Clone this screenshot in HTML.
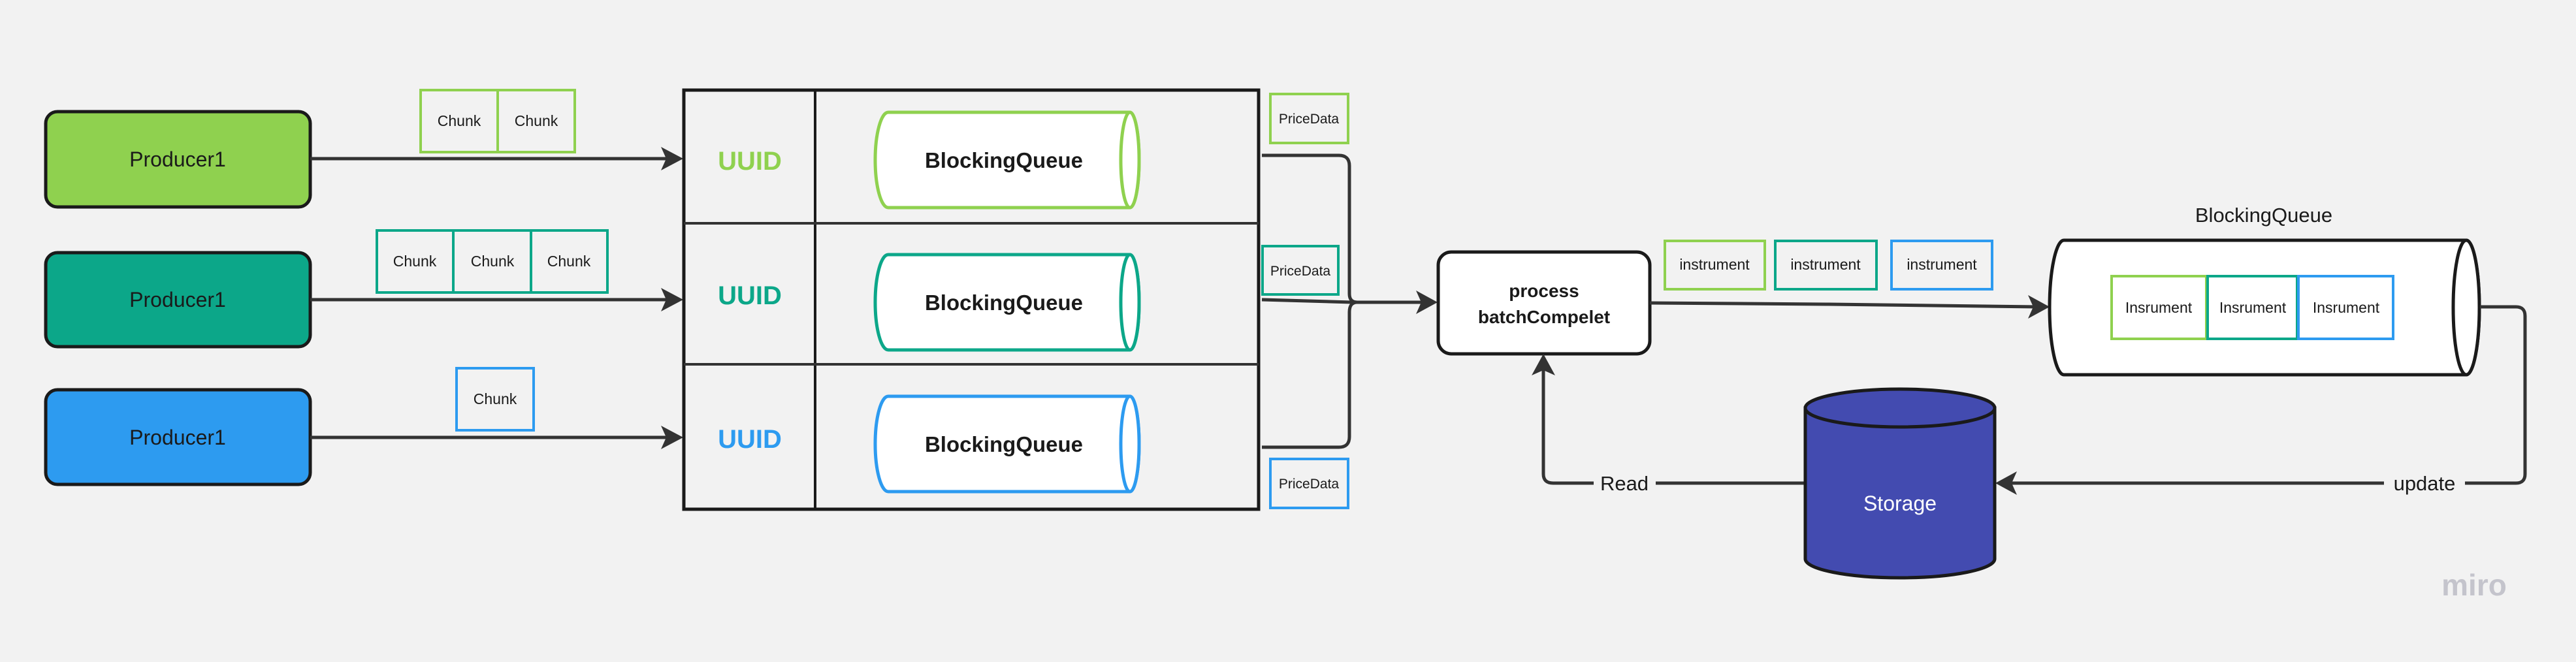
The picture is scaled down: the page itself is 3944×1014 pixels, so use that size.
<!DOCTYPE html>
<html><head><meta charset="utf-8"><style>
html,body{margin:0;padding:0;background:#f2f2f2;}
svg{display:block;}
text{font-family:"Liberation Sans",sans-serif;fill:#1a1a1a;}
</style></head><body>
<svg width="3944" height="1014" viewBox="0 0 3944 1014" xmlns="http://www.w3.org/2000/svg">
<defs>
<marker id="ah" markerWidth="10" markerHeight="10" refX="8" refY="5" orient="auto" markerUnits="userSpaceOnUse" viewBox="0 0 10 10">
</marker>
</defs>
<rect width="3944" height="1014" fill="#f2f2f2"/>

<!-- Producers -->
<rect x="70" y="171" width="405" height="146" rx="18" fill="#8fd14f" stroke="#1a1a1a" stroke-width="5"/>
<text x="272" y="255" font-size="32" text-anchor="middle">Producer1</text>
<rect x="70" y="387" width="405" height="144" rx="18" fill="#0ca789" stroke="#1a1a1a" stroke-width="5"/>
<text x="272" y="470" font-size="32" text-anchor="middle">Producer1</text>
<rect x="70" y="597" width="405" height="145" rx="18" fill="#2d9bf0" stroke="#1a1a1a" stroke-width="5"/>
<text x="272" y="681" font-size="32" text-anchor="middle">Producer1</text>

<!-- Chunks -->
<g fill="none" stroke-width="4">
<rect x="644" y="138" width="118" height="95" stroke="#8fd14f"/>
<rect x="762" y="138" width="118" height="95" stroke="#8fd14f"/>
<rect x="577" y="353" width="117" height="95" stroke="#0ca789"/>
<rect x="694" y="353" width="119" height="95" stroke="#0ca789"/>
<rect x="813" y="353" width="117" height="95" stroke="#0ca789"/>
<rect x="699" y="564" width="118" height="95" stroke="#2d9bf0"/>
</g>
<g font-size="23" text-anchor="middle">
<text x="703" y="193">Chunk</text><text x="821" y="193">Chunk</text>
<text x="635" y="408">Chunk</text><text x="754" y="408">Chunk</text><text x="871" y="408">Chunk</text>
<text x="758" y="619">Chunk</text>
</g>

<!-- producer arrows -->
<g stroke="#333" stroke-width="5" fill="none">
<line x1="475" y1="243" x2="1030" y2="243"/>
<line x1="475" y1="459" x2="1030" y2="459"/>
<line x1="475" y1="670" x2="1030" y2="670"/>
</g>
<g fill="#333">
<path d="M1046 243 L1012 225 L1020 243 L1012 261Z"/>
<path d="M1046 459 L1012 441 L1020 459 L1012 477Z"/>
<path d="M1046 670 L1012 652 L1020 670 L1012 688Z"/>
</g>

<!-- Table -->
<rect x="1047" y="138" width="880" height="642" fill="#f2f2f2" stroke="#1a1a1a" stroke-width="5"/>
<line x1="1248" y1="138" x2="1248" y2="780" stroke="#1a1a1a" stroke-width="4"/>
<line x1="1047" y1="342" x2="1927" y2="342" stroke="#333" stroke-width="4"/>
<line x1="1047" y1="558" x2="1927" y2="558" stroke="#333" stroke-width="4"/>
<g font-size="40" font-weight="bold" text-anchor="middle">
<text x="1148" y="260" style="fill:#8fd14f">UUID</text>
<text x="1148" y="466" style="fill:#0ca789">UUID</text>
<text x="1148" y="686" style="fill:#2d9bf0">UUID</text>
</g>

<!-- small cylinders -->
<g stroke-width="5" fill="#fff">
<path d="M1360 172 L1730 172 A14 73 0 0 1 1730 318 L1360 318 A20 73 0 0 1 1360 172Z" stroke="#8fd14f"/>
<ellipse cx="1730" cy="245" rx="14" ry="73" stroke="#8fd14f"/>
<path d="M1360 390 L1730 390 A14 73 0 0 1 1730 536 L1360 536 A20 73 0 0 1 1360 390Z" stroke="#0ca789"/>
<ellipse cx="1730" cy="463" rx="14" ry="73" stroke="#0ca789"/>
<path d="M1360 607 L1730 607 A14 73 0 0 1 1730 753 L1360 753 A20 73 0 0 1 1360 607Z" stroke="#2d9bf0"/>
<ellipse cx="1730" cy="680" rx="14" ry="73" stroke="#2d9bf0"/>
</g>
<g font-size="33" font-weight="bold" text-anchor="middle">
<text x="1537" y="257">BlockingQueue</text>
<text x="1537" y="475">BlockingQueue</text>
<text x="1537" y="692">BlockingQueue</text>
</g>

<!-- PriceData -->
<g fill="none" stroke-width="4">
<rect x="1945" y="144" width="119" height="75" stroke="#8fd14f"/>
<rect x="1933" y="377" width="116" height="74" stroke="#0ca789"/>
<rect x="1945" y="703" width="119" height="75" stroke="#2d9bf0"/>
</g>
<g font-size="21" text-anchor="middle">
<text x="2004" y="189">PriceData</text>
<text x="1991" y="422">PriceData</text>
<text x="2004" y="748">PriceData</text>
</g>

<!-- merge connectors -->
<g stroke="#333" stroke-width="5" fill="none">
<path d="M1932 238 L2050 238 Q2066 238 2066 254 L2066 450 Q2066 463 2078 463"/>
<path d="M1932 459 L2070 463 L2185 463"/>
<path d="M1932 685 L2050 685 Q2066 685 2066 669 L2066 478 Q2066 463 2078 463"/>
</g>
<path d="M2201 463 L2168 445 L2176 463 L2168 481Z" fill="#333"/>

<!-- process -->
<rect x="2202" y="386" width="324" height="156" rx="20" fill="#fff" stroke="#1a1a1a" stroke-width="5"/>
<g font-size="28" font-weight="bold" text-anchor="middle">
<text x="2364" y="455">process</text>
<text x="2364" y="495">batchCompelet</text>
</g>

<!-- instrument boxes -->
<g fill="none" stroke-width="4">
<rect x="2549" y="369" width="153" height="74" stroke="#8fd14f"/>
<rect x="2718" y="369" width="155" height="74" stroke="#0ca789"/>
<rect x="2896" y="369" width="154" height="74" stroke="#2d9bf0"/>
</g>
<g font-size="23" text-anchor="middle">
<text x="2625" y="413">instrument</text>
<text x="2795" y="413">instrument</text>
<text x="2973" y="413">instrument</text>
</g>

<!-- process -> big queue -->
<path d="M2526 464 L2800 466 L3120 470" stroke="#333" stroke-width="5" fill="none"/>
<path d="M3138 470 L3105 452 L3113 470 L3105 488Z" fill="#333"/>

<!-- big cylinder -->
<text x="3466" y="340" font-size="31" text-anchor="middle">BlockingQueue</text>
<path d="M3160 368 L3776 368 A20 103 0 0 1 3776 574 L3160 574 A22 103 0 0 1 3160 368Z" fill="#fff" stroke="#1a1a1a" stroke-width="5"/>
<ellipse cx="3776" cy="471" rx="20" ry="103" fill="#fff" stroke="#1a1a1a" stroke-width="5"/>
<g fill="#fff" stroke-width="4">
<rect x="3233" y="423" width="145" height="96" stroke="#8fd14f"/>
<rect x="3380" y="423" width="137" height="96" stroke="#0ca789"/>
<rect x="3519" y="423" width="145" height="96" stroke="#2d9bf0"/>
</g>
<g font-size="23" text-anchor="middle">
<text x="3305" y="479">Insrument</text>
<text x="3449" y="479">Insrument</text>
<text x="3592" y="479">Insrument</text>
</g>

<!-- update connector -->
<path d="M3797 470 L3852 470 Q3866 470 3866 484 L3866 726 Q3866 740 3852 740 L3075 740" stroke="#333" stroke-width="5" fill="none"/>
<path d="M3055 740 L3088 722 L3080 740 L3088 758Z" fill="#333"/>
<rect x="3650" y="720" width="124" height="40" fill="#f2f2f2"/>
<text x="3712" y="751" font-size="31" text-anchor="middle">update</text>

<!-- read connector -->
<path d="M2763 740 L2378 740 Q2363 740 2363 726 L2363 562" stroke="#333" stroke-width="5" fill="none"/>
<path d="M2363 542 L2345 575 L2363 567 L2381 575Z" fill="#333"/>
<rect x="2440" y="720" width="95" height="40" fill="#f2f2f2"/>
<text x="2487" y="751" font-size="31" text-anchor="middle">Read</text>

<!-- storage -->
<path d="M2764 625 L2764 856 A145 29 0 0 0 3054 856 L3054 625Z" fill="#434bb0" stroke="#1a1a1a" stroke-width="5"/>
<ellipse cx="2909" cy="625" rx="145" ry="29" fill="#434bb0" stroke="#1a1a1a" stroke-width="5"/>
<text x="2909" y="782" font-size="32" text-anchor="middle" style="fill:#fff">Storage</text>

<!-- miro -->
<text x="3788" y="912" font-size="46" text-anchor="middle" style="fill:#c4c4cc;font-weight:bold">miro</text>
</svg>
</body></html>
